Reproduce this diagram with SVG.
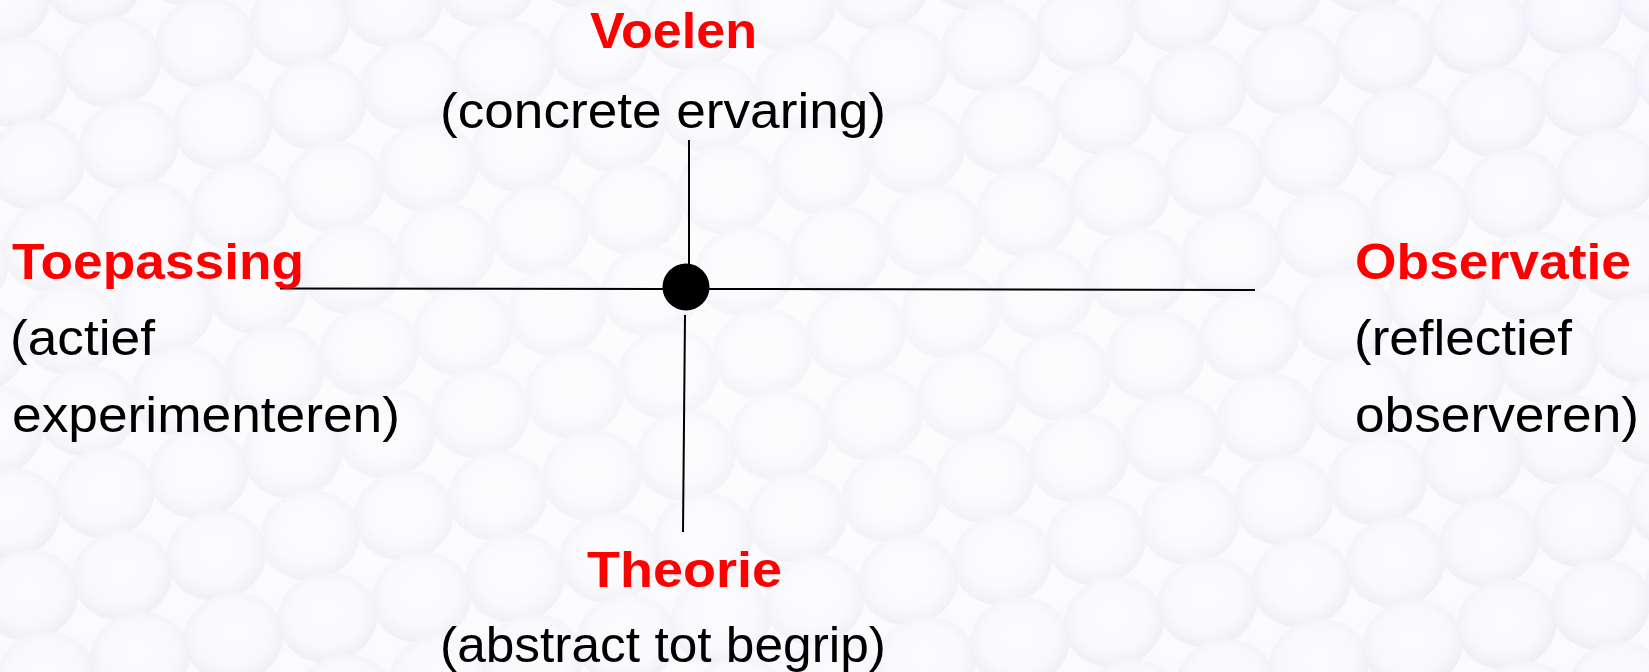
<svg xmlns="http://www.w3.org/2000/svg" width="1649" height="672" viewBox="0 0 1649 672">
  <defs>
    <radialGradient id="cellGrad" cx="0.5" cy="0.45" r="0.55">
      <stop offset="0" stop-color="#ffffff"/>
      <stop offset="0.65" stop-color="#fbfbfe"/>
      <stop offset="1" stop-color="#e6e6f1"/>
    </radialGradient>
    <pattern id="cells" x="0" y="0" width="96" height="84" patternUnits="userSpaceOnUse" patternTransform="rotate(-12)">
      <rect width="96" height="84" fill="#ebebf4"/>
      <ellipse cx="48" cy="42" rx="50" ry="45" fill="url(#cellGrad)"/>
      <ellipse cx="0" cy="0" rx="50" ry="45" fill="url(#cellGrad)"/>
      <ellipse cx="96" cy="0" rx="50" ry="45" fill="url(#cellGrad)"/>
      <ellipse cx="0" cy="84" rx="50" ry="45" fill="url(#cellGrad)"/>
      <ellipse cx="96" cy="84" rx="50" ry="45" fill="url(#cellGrad)"/>
    </pattern>
    <radialGradient id="fade" cx="0.45" cy="0.45" r="0.75">
      <stop offset="0" stop-color="#ffffff" stop-opacity="0.35"/>
      <stop offset="1" stop-color="#ffffff" stop-opacity="0"/>
    </radialGradient>
    <style>
      .title { font-family: "Liberation Sans", Arial, sans-serif; font-weight: bold; font-size: 50px; fill: #ff0000; }
      .sub { font-family: "Liberation Sans", Arial, sans-serif; font-size: 50px; fill: #000000; }
      .conn { stroke: #000000; stroke-width: 2; fill: none; }
    </style>
  </defs>

  <g id="background">
    <rect width="1649" height="672" fill="#f7f7fb"/>
    <rect width="1649" height="672" fill="url(#cells)" opacity="0.55"/>
    <rect width="1649" height="672" fill="url(#fade)"/>
  </g>

  <g id="connectors">
    <line class="conn" x1="280" y1="288.5" x2="663" y2="289"/>
    <line class="conn" x1="709" y1="289" x2="1255" y2="290"/>
    <line class="conn" x1="689" y1="140" x2="689" y2="264"/>
    <line class="conn" x1="685" y1="315" x2="683" y2="532"/>
  </g>

  <g id="center">
    <circle cx="686" cy="287" r="23.5" fill="#000000"/>
  </g>

  <g id="node-voelen">
    <text class="title" x="590" y="48" textLength="167" lengthAdjust="spacingAndGlyphs">Voelen</text>
    <text class="sub" x="440" y="128" textLength="446" lengthAdjust="spacingAndGlyphs">(concrete ervaring)</text>
  </g>

  <g id="node-toepassing">
    <text class="title" x="12" y="279" textLength="292" lengthAdjust="spacingAndGlyphs">Toepassing</text>
    <text class="sub" x="10" y="355" textLength="145" lengthAdjust="spacingAndGlyphs">(actief</text>
    <text class="sub" x="12" y="432" textLength="388" lengthAdjust="spacingAndGlyphs">experimenteren)</text>
  </g>

  <g id="node-observatie">
    <text class="title" x="1355" y="279" textLength="276" lengthAdjust="spacingAndGlyphs">Observatie</text>
    <text class="sub" x="1354" y="355" textLength="218" lengthAdjust="spacingAndGlyphs">(reflectief</text>
    <text class="sub" x="1355" y="432" textLength="284" lengthAdjust="spacingAndGlyphs">observeren)</text>
  </g>

  <g id="node-theorie">
    <text class="title" x="587" y="587" textLength="195" lengthAdjust="spacingAndGlyphs">Theorie</text>
    <text class="sub" x="440" y="662" textLength="446" lengthAdjust="spacingAndGlyphs">(abstract tot begrip)</text>
  </g>
</svg>
